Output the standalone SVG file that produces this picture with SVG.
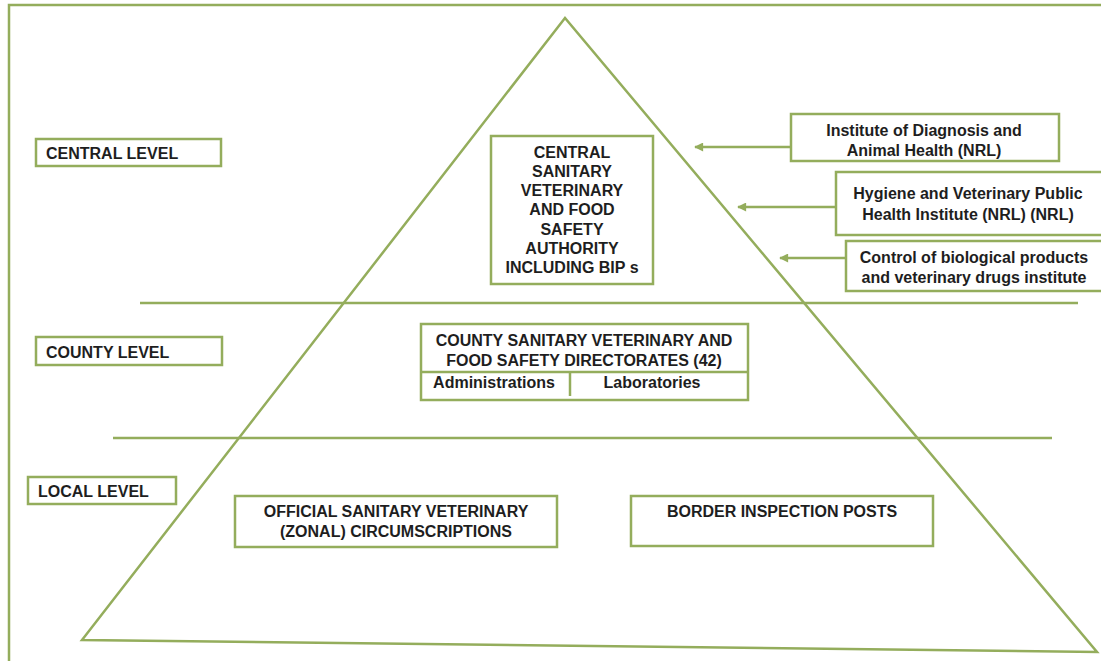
<svg xmlns="http://www.w3.org/2000/svg" width="1101" height="661" viewBox="0 0 1101 661">
<style>
.ln{stroke:#94ad5c;stroke-width:2.5;fill:none}
.bx{stroke:#94ad5c;stroke-width:2.5;fill:#fff}
.t{font-family:"Liberation Sans",Arial,sans-serif;font-weight:bold;font-size:16px;fill:#1e1e1e}
.c{text-anchor:middle}
</style>
<defs>
<marker id="ah" viewBox="0 0 10 10" refX="9" refY="5" markerWidth="4" markerHeight="3.6" orient="auto" markerUnits="strokeWidth">
<path d="M0,0 L10,5 L0,10 Z" fill="#94ad5c"/>
</marker>
</defs>
<rect width="1101" height="661" fill="#fff"/>
<rect x="9" y="5" width="1110" height="680" class="ln" stroke-width="3"/>
<g id="pyramid">
<path d="M565,18 L82,640 L1097,652 Z" class="ln"/>
<line x1="140" y1="303" x2="1078" y2="303" class="ln"/>
<line x1="113" y1="438" x2="1052" y2="438" class="ln"/>
</g>
<g id="central-level"><rect x="36" y="139" width="185" height="27" class="bx"/><text x="46" y="158.5" class="t">CENTRAL LEVEL</text></g>
<g id="county-level"><rect x="36" y="337" width="186" height="28" class="bx"/><text x="46" y="357.5" class="t">COUNTY LEVEL</text></g>
<g id="local-level"><rect x="28" y="477" width="148" height="27" class="bx"/><text x="38" y="496.5" class="t">LOCAL LEVEL</text></g>
<g id="central-authority"><rect x="491" y="136" width="162" height="148" class="bx"/>
<text class="t c"><tspan x="572" y="157.5">CENTRAL</tspan><tspan x="572" y="176.5">SANITARY</tspan><tspan x="572" y="195.5">VETERINARY</tspan><tspan x="572" y="214.5">AND FOOD</tspan><tspan x="572" y="234.5">SAFETY</tspan><tspan x="572" y="253.5">AUTHORITY</tspan><tspan x="572" y="272.5">INCLUDING BIP s</tspan></text></g>
<g id="inst-diagnosis"><rect x="791" y="114" width="268" height="47" class="bx"/>
<text class="t c"><tspan x="924" y="135.5">Institute of Diagnosis and</tspan><tspan x="924" y="155.5">Animal Health (NRL)</tspan></text></g>
<g id="inst-hygiene"><rect x="836" y="172" width="275" height="63" class="bx"/>
<text class="t c"><tspan x="968" y="198.5">Hygiene and Veterinary Public</tspan><tspan x="968" y="219.5">Health Institute (NRL) (NRL)</tspan></text></g>
<g id="inst-control"><rect x="846" y="241" width="265" height="50" class="bx"/>
<text class="t c"><tspan x="974" y="262.5">Control of biological products</tspan><tspan x="974" y="282.5">and veterinary drugs institute</tspan></text></g>
<g id="county-directorates"><rect x="421" y="324" width="327" height="76" class="bx"/>
<line x1="421" y1="372" x2="748" y2="372" class="ln" stroke-width="1.5"/>
<line x1="570" y1="372" x2="570" y2="396" class="ln" stroke-width="1.5"/>
<text class="t c"><tspan x="584" y="345.5">COUNTY SANITARY VETERINARY AND</tspan><tspan x="584" y="365.5">FOOD SAFETY DIRECTORATES (42)</tspan></text>
<text class="t c" x="494" y="387.5">Administrations</text><text class="t c" x="652" y="387.5">Laboratories</text></g>
<g id="zonal"><rect x="235" y="496" width="322" height="51" class="bx"/>
<text class="t c"><tspan x="396" y="516.5">OFFICIAL SANITARY VETERINARY</tspan><tspan x="396" y="536.5">(ZONAL) CIRCUMSCRIPTIONS</tspan></text></g>
<g id="bip"><rect x="631" y="496" width="302" height="50" class="bx"/>
<text class="t c" x="782" y="516.5">BORDER INSPECTION POSTS</text></g>
<g id="connectors">
<line x1="790" y1="147" x2="695" y2="147" class="ln" marker-end="url(#ah)"/>
<line x1="835" y1="207" x2="738" y2="207" class="ln" marker-end="url(#ah)"/>
<line x1="845" y1="258" x2="780" y2="258" class="ln" marker-end="url(#ah)"/>
</g>
</svg>
